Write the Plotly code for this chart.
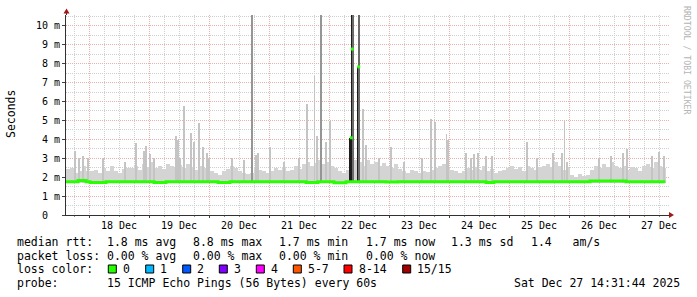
import plotly.graph_objects as go
import pandas as pd

# ---------------- data ----------------
range_start = "2025-12-17 14:48:00"
range_end = "2025-12-27 16:00:00"
now_time = "2025-12-27 14:31:44"
bin_minutes = 96

# top of the grey smoke (ms) per 96-minute bin
smoke_top = [
    2.45, 2.5, 2.2, 2.35, 2.6, 2.3,
    2.3, 2.4, 2.2, 2.5, 2.35, 2.6, 2.3, 2.2, 2.45, 2.5,
    2.5, 2.6, 2.4, 2.7, 2.55, 2.8, 2.5, 2.6, 2.45, 2.7, 2.6, 2.5, 2.65,
    2.5, 2.7, 2.55, 2.4, 2.6, 2.5, 2.35, 2.3,
    2.2, 2.1, 2.3, 2.45, 2.6, 2.5, 2.3, 2.2, 2.15, 2.2,
    2.5, 2.4, 2.3, 2.2, 2.35, 2.5, 2.4, 2.55, 2.3, 2.4, 2.6, 2.45,
    2.7, 2.8, 2.6, 2.75, 2.9, 2.7, 2.8, 2.6, 2.5, 2.3, 2.2, 2.4,
    2.5, 2.9, 2.8, 2.6, 2.9, 2.7, 2.8, 2.6, 2.75, 2.6, 2.5, 2.7, 2.45,
    2.3, 2.2, 2.4, 2.3, 2.2, 2.35, 2.25, 2.4, 2.5, 2.6,
    2.7, 2.5, 2.4, 2.3, 2.2, 2.35, 2.5, 2.4,
    2.55, 2.4, 2.6, 2.3, 2.45, 2.2, 2.35, 2.4,
    2.5, 2.6, 2.45, 2.55, 2.3, 2.6, 2.5, 2.4, 2.55,
    2.6, 2.7, 2.55, 2.8, 2.6, 2.4, 2.5,
    2.1, 2.0, 2.15, 2.05, 2.1,
    2.4, 2.6, 2.5, 2.7, 2.55, 2.8, 2.6, 2.5,
    2.6, 2.4, 2.55, 2.5, 2.3,
    2.6, 2.7, 2.5, 2.8, 2.6, 2.5,
]
smoke_floor = 1.68

# median rtt (ms) per bin
median_ms = [
    1.76, 1.76, 1.76, 1.82, 1.82, 1.76, 1.72, 1.72, 1.72, 1.72,
    1.76, 1.76, 1.76, 1.76, 1.76, 1.76, 1.76, 1.76, 1.76, 1.76,
    1.76, 1.76, 1.72, 1.72, 1.72, 1.76, 1.76, 1.76, 1.76, 1.76,
    1.76, 1.76, 1.76, 1.76, 1.76, 1.76, 1.76, 1.76, 1.72, 1.72,
    1.72, 1.76, 1.76, 1.76, 1.76, 1.76, 1.76, 1.76, 1.76, 1.76,
    1.76, 1.76, 1.76, 1.76, 1.76, 1.76, 1.76, 1.76, 1.76, 1.76,
    1.72, 1.72, 1.72, 1.76, 1.76, 1.76, 1.76, 1.70, 1.70, 1.70,
    1.76, 1.76, 1.76, 1.76, 1.76, 1.76, 1.76, 1.76, 1.76, 1.76,
    1.74, 1.74, 1.74, 1.76, 1.76, 1.76, 1.76, 1.76, 1.76, 1.76,
    1.76, 1.76, 1.76, 1.76, 1.76, 1.76, 1.76, 1.76, 1.76, 1.76,
    1.76, 1.76, 1.76, 1.76, 1.76, 1.72, 1.72, 1.76, 1.76, 1.76,
    1.76, 1.76, 1.76, 1.76, 1.76, 1.76, 1.76, 1.76, 1.76, 1.76,
    1.76, 1.76, 1.76, 1.76, 1.76, 1.76, 1.76, 1.76, 1.76, 1.76,
    1.76, 1.80, 1.80, 1.80, 1.80, 1.80, 1.80, 1.80, 1.80, 1.80,
    1.76, 1.76, 1.76, 1.76, 1.76, 1.76, 1.76, 1.76, 1.76, 1.76,
]

# thin light-grey smoke needles
spike_times = [
    "2025-12-17 18:24", "2025-12-17 20:07", "2025-12-17 21:36", "2025-12-17 23:36",
    "2025-12-18 05:36", "2025-12-18 14:17", "2025-12-18 18:48", "2025-12-18 22:00", "2025-12-18 22:48",
    "2025-12-19 00:24", "2025-12-19 02:00", "2025-12-19 10:55", "2025-12-19 11:36", "2025-12-19 12:24",
    "2025-12-19 14:00", "2025-12-19 16:55", "2025-12-19 18:00", "2025-12-19 20:00", "2025-12-19 21:29",
    "2025-12-19 23:12", "2025-12-20 00:00", "2025-12-20 09:12", "2025-12-20 14:00", "2025-12-20 18:41",
    "2025-12-20 19:36", "2025-12-21 00:24", "2025-12-21 06:00", "2025-12-21 12:00", "2025-12-21 15:19",
    "2025-12-21 18:12", "2025-12-21 19:19", "2025-12-21 22:41", "2025-12-22 00:24", "2025-12-22 13:36",
    "2025-12-22 14:41", "2025-12-22 20:00", "2025-12-23 00:48", "2025-12-23 06:00", "2025-12-23 13:12",
    "2025-12-23 16:55", "2025-12-23 18:24", "2025-12-23 23:00", "2025-12-23 23:43", "2025-12-24 06:48",
    "2025-12-24 08:41", "2025-12-24 10:00", "2025-12-24 11:36", "2025-12-24 14:41", "2025-12-24 17:12",
    "2025-12-25 07:19", "2025-12-25 11:12", "2025-12-25 17:43", "2025-12-25 21:19", "2025-12-25 22:12",
    "2025-12-25 23:05", "2025-12-26 12:00", "2025-12-26 16:41", "2025-12-26 21:36", "2025-12-26 23:05",
    "2025-12-27 09:19", "2025-12-27 12:00", "2025-12-27 14:00",
]
spike_ms = [
    3.38, 3.0, 3.1, 3.0,
    3.0, 2.8, 3.8, 3.4, 3.65,
    3.2, 3.0, 4.2, 3.95, 3.0,
    5.77, 4.35, 3.87, 4.84, 3.6,
    3.3, 3.0, 3.0, 2.9, 3.15,
    3.27, 3.6, 2.8, 3.0, 5.86,
    7.34, 4.2, 3.85, 4.98, 5.58,
    3.7, 3.0, 3.6, 2.8, 3.0,
    5.07, 4.93, 4.3, 3.96, 3.3,
    3.0, 3.2, 3.3, 3.1, 3.1,
    3.87, 3.0, 3.3, 3.3, 5.02,
    2.8, 3.0, 3.1, 3.3, 3.5,
    3.1, 3.35, 3.1,
]

# off-scale darker needles
grey_spike_times = ["2025-12-20 17:19", "2025-12-21 20:55"]
grey_spike_ms = [10.6, 10.6]

# dense dark smoke around the 22 Dec event
dark_times = ["2025-12-22 08:36", "2025-12-22 09:07", "2025-12-22 09:36", "2025-12-22 11:29", "2025-12-22 11:55"]
dark_ms = [4.08, 10.6, 10.6, 7.83, 10.6]
dark_colors = ["#1c1c1c", "#1c1c1c", "#6a6a6a", "#1c1c1c", "#6a6a6a"]

# median rtt during the event
event_median_times = ["2025-12-22 08:55", "2025-12-22 09:19", "2025-12-22 11:53"]
event_median_ms = [4.08, 8.77, 7.83]

y_tick_vals = [0, 1, 2, 3, 4, 5, 6, 7, 8, 9, 10]
y_tick_text = ["0\u00a0\u00a0", "1 m", "2 m", "3 m", "4 m", "5 m", "6 m", "7 m", "8 m", "9 m", "10 m"]

rtt_stats = ["1.8 ms avg", "8.8 ms max", "1.7 ms min", "1.7 ms now", "1.3 ms sd", "1.4   am/s"]
loss_stats = ["0.00 % avg", "0.00 % max", "0.00 % min", "0.00 % now"]
loss_labels = ["0", "1", "2", "3", "4", "5-7", "8-14", "15/15"]
loss_colors = ["#26ff00", "#00b8ff", "#0059ff", "#7e00ff", "#ff00ff", "#ff5500", "#ff0000", "#a10000"]
probe_text = "15 ICMP Echo Pings (56 Bytes) every 60s"
stamp_text = "Sat Dec 27 14:31:44 2025"

# ---------------- figure ----------------
W, H = 697, 297
L, R, T, B = 66, 28, 15, 82
PW = W - L - R
PH = H - T - B
Y_MAX = 10.57
MONO = "DejaVu Sans Mono"
PX_MS = 24 * 60 * 1000  # one pixel = 24 minutes
MAJOR_GRID = "#ebb0b0"
MINOR_GRID = "#cfcfcf"

def px(x):
    return (x - L) / PW

def py(y):
    return (H - B - y) / PH

t0 = pd.Timestamp(range_start)
bin_starts = [t0 + pd.Timedelta(minutes=bin_minutes * i) for i in range(len(smoke_top))]
bin_centers = [t0 + pd.Timedelta(minutes=bin_minutes * (i + 0.5)) for i in range(len(smoke_top))]

fig = go.Figure()

fig.add_trace(go.Bar(
    x=bin_centers, y=[v - smoke_floor for v in smoke_top], base=smoke_floor,
    width=bin_minutes * 60 * 1000, marker=dict(color="#d4d4d4", line=dict(width=0)),
    hoverinfo="skip", showlegend=False))

fig.add_trace(go.Bar(
    x=spike_times, y=[v - smoke_floor for v in spike_ms], base=smoke_floor,
    width=PX_MS, marker=dict(color="#c4c4c4", line=dict(width=0)),
    hoverinfo="skip", showlegend=False))

fig.add_trace(go.Bar(
    x=grey_spike_times, y=[v - smoke_floor for v in grey_spike_ms], base=smoke_floor,
    width=PX_MS * 1.1, marker=dict(color="#959595", line=dict(width=0)),
    hoverinfo="skip", showlegend=False))

fig.add_trace(go.Bar(
    x=dark_times, y=[v - smoke_floor for v in dark_ms], base=smoke_floor,
    width=PX_MS * 1.4, marker=dict(color=dark_colors, line=dict(width=0)),
    hoverinfo="skip", showlegend=False))

fig.add_trace(go.Scatter(
    x=bin_starts + [pd.Timestamp(now_time)], y=median_ms + [median_ms[-1]],
    mode="lines", line=dict(color="#26ff00", width=3, shape="hv"),
    hoverinfo="skip", showlegend=False))

fig.add_trace(go.Scatter(
    x=event_median_times, y=event_median_ms, mode="markers",
    marker=dict(color="#26ff00", size=3, symbol="square", line=dict(width=0)),
    hoverinfo="skip", showlegend=False))

fig.update_layout(
    width=W, height=H, margin=dict(l=L, r=R, t=T, b=B),
    paper_bgcolor="white", plot_bgcolor="white",
    barmode="overlay", bargap=0,
    font=dict(family=MONO, color="#000000", size=10),
)

fig.update_xaxes(
    type="date", range=[range_start, range_end],
    tick0="2025-12-18", dtick=86400000, ticklabelmode="period", tickformat="%d %b",
    ticks="outside", ticklen=2, tickcolor="#404040", ticklabelstandoff=-1,
    showgrid=True, gridcolor=MAJOR_GRID, griddash="1px,1px", gridwidth=1,
    minor=dict(dtick=6 * 3600000, tick0="2025-12-18", showgrid=True, gridcolor=MINOR_GRID,
               griddash="1px,1px", ticks="outside", ticklen=1, tickcolor="#909090"),
    showline=True, linecolor="#303030", linewidth=1,
    tickfont=dict(family=MONO, size=10, color="#000000"),
    zeroline=False,
)
fig.update_yaxes(
    range=[0, Y_MAX], tickmode="array", tickvals=y_tick_vals, ticktext=y_tick_text,
    ticks="outside", ticklen=3, tickcolor="#404040",
    showgrid=True, gridcolor=MAJOR_GRID, griddash="1px,1px", gridwidth=1,
    minor=dict(dtick=0.5, tick0=0, showgrid=True, gridcolor=MINOR_GRID, griddash="1px,1px"),
    showline=True, linecolor="#303030", linewidth=1,
    tickfont=dict(family=MONO, size=10, color="#000000"),
    zeroline=False,
)

shapes = []
# axis arrows
shapes.append(dict(type="line", xref="paper", yref="paper", x0=px(66.5), x1=px(66.5),
                   y0=py(15), y1=py(12), line=dict(color="#303030", width=1)))
shapes.append(dict(type="path", xref="paper", yref="paper",
                   path=f"M {px(63.5)} {py(13.5)} L {px(69.5)} {py(13.5)} L {px(66.5)} {py(8.5)} Z",
                   fillcolor="#a01818", line=dict(width=0)))
shapes.append(dict(type="line", xref="paper", yref="paper", x0=1, x1=px(670),
                   y0=py(215), y1=py(215), line=dict(color="#303030", width=1)))
shapes.append(dict(type="path", xref="paper", yref="paper",
                   path=f"M {px(669)} {py(212)} L {px(669)} {py(218)} L {px(674)} {py(215)} Z",
                   fillcolor="#a01818", line=dict(width=0)))

annotations = []

def text(x, y, s, anchor="left", size=11.5, color="#000000", angle=0):
    annotations.append(dict(xref="paper", yref="paper", x=px(x), y=py(y), text=s,
                            showarrow=False, xanchor=anchor, yanchor="middle",
                            textangle=angle, borderpad=0, borderwidth=0,
                            font=dict(family=MONO, size=size, color=color)))

# y title & watermark
text(11, 114, "Seconds", anchor="center", angle=-90)
text(687, 60, "RRDTOOL / TOBI OETIKER", anchor="center", size=8.2, color="#b4b4b4", angle=90)

rows = [242, 255.5, 269, 283]
col_x = [107.3, 193.3, 279.3, 365.7, 451, 530.7]
text(16.5, rows[0], "median rtt:")
for s, x in zip(rtt_stats, col_x):
    text(x, rows[0], s)
text(16.5, rows[1], "packet loss:")
for s, x in zip(loss_stats, col_x):
    text(x, rows[1], s)
text(16.5, rows[2], "loss color:")
box_x = [108.3, 145.7, 182.7, 219.3, 256.3, 293.3, 344, 402.7]
for lab, col, bx in zip(loss_labels, loss_colors, box_x):
    shapes.append(dict(type="rect", xref="paper", yref="paper",
                       x0=px(bx), x1=px(bx + 8), y0=py(265), y1=py(273),
                       fillcolor=col, line=dict(color="#000000", width=1)))
    text(bx + 14.5, rows[2], lab)
text(16.5, rows[3], "probe:")
text(107.3, rows[3], probe_text)
text(680, rows[3], stamp_text, anchor="right")

fig.update_layout(shapes=shapes, annotations=annotations)
fig.write_html("out.html")
